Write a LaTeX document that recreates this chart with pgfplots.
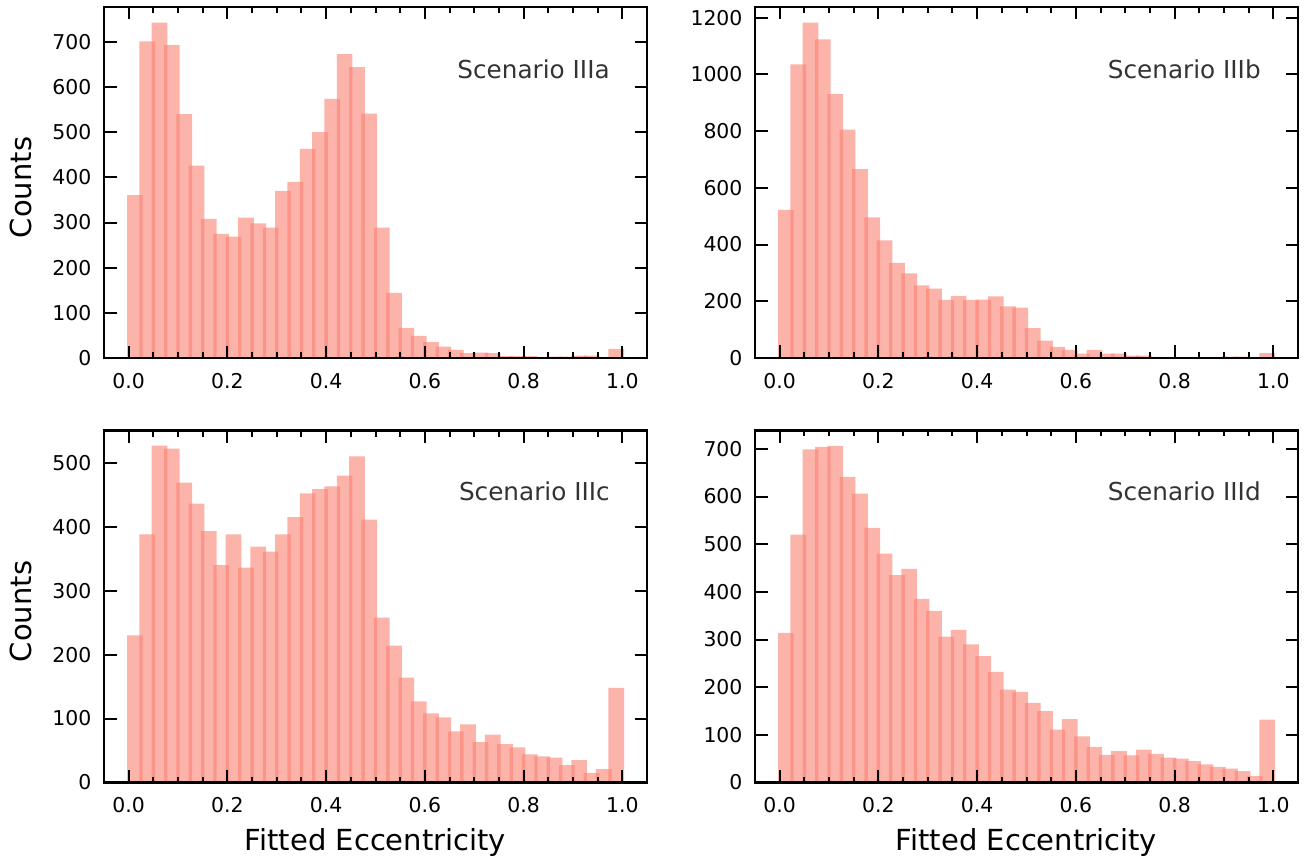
\documentclass[border=0pt]{standalone}
\usepackage{fontspec}
\setmainfont{DejaVu Sans}
\usepackage{pgfplots}
\usepackage{pgfplotstable}
\pgfplotsset{compat=1.18}
\definecolor{barc}{RGB}{250,128,114}
\definecolor{txt}{RGB}{51,51,51}

\pgfplotstableread{
x      a    b     c    d
0.0125 361  522   230  314
0.0375 701  1035  388  520
0.0625 743  1182  527  699
0.0875 693  1123  522  704
0.1125 540  930   469  706
0.1375 426  805   436  641
0.1625 308  666   393  606
0.1875 275  496   340  534
0.2125 269  415   388  480
0.2375 311  335   336  435
0.2625 298  298   369  448
0.2875 289  256   361  385
0.3125 370  245   388  360
0.3375 390  205   415  306
0.3625 463  219   452  320
0.3875 500  205   459  290
0.4125 574  206   463  265
0.4375 673  217   480  232
0.4625 644  182   510  195
0.4875 541  178   411  190
0.5125 289  105   258  167
0.5375 144  61    214  150
0.5625 67   39    164  111
0.5875 49   29    127  133
0.6125 35   15    108  97
0.6375 25   29    102  75
0.6625 18   15    80   58
0.6875 11   15    91   66
0.7125 12   8     63   57
0.7375 11   8     75   69
0.7625 4    4     60   60
0.7875 4    2     55   52
0.8125 4    2     44   50
0.8375 2    3     41   45
0.8625 3    2     39   38
0.8875 3    2     27   33
0.9125 5    5     35   29
0.9375 5    5     15   24
0.9625 2    2     21   14
0.9875 20   17    148  132
}\histdata

\tikzset{scen/.style={anchor=base east, inner sep=0pt, text=txt, font=\fontsize{12.35}{14}\selectfont}}

\pgfplotsset{
  hist/.style={
    scale only axis, width=271.5pt,
    xmin=-0.05, xmax=1.05, ymin=0,
    xtick={0,0.2,0.4,0.6,0.8,1.0},
    minor xtick={0.05,0.1,0.15,0.25,0.3,0.35,0.45,0.5,0.55,0.65,0.7,0.75,0.85,0.9,0.95},
    tick align=inside, tick pos=both,
    major tick length=6.25pt, minor tick length=3pt,
    every tick/.style={black, line width=1pt},
    axis line style={line width=1.15pt},
    axis on top=true,
    /pgf/number format/assume math mode=true,
    /pgf/number format/1000 sep={},
    scaled y ticks=false,
    filter discard warning=false,
    x tick label style={font=\fontsize{10.2}{12}\selectfont, yshift=-4.1pt,
      /pgf/number format/.cd, fixed, fixed zerofill, precision=1, /tikz/.cd},
    y tick label style={font=\fontsize{10.2}{12}\selectfont, xshift=-2.75pt},
    every axis y label/.style={at={(axis description cs:-0.1525,0.486)}, rotate=90, anchor=center,
      font=\fontsize{14.5}{16}\selectfont},
    every axis x label/.style={at={(axis description cs:0.5,-0.193)}, anchor=base,
      font=\fontsize{14.5}{16}\selectfont},
  },
  bars/.style={ybar, bar width=0.0318, fill=barc, fill opacity=0.6, draw=none},
  evenbins/.style={x filter/.expression={mod(\coordindex,2)==0 ? x : nan}},
  oddbins/.style={x filter/.expression={mod(\coordindex,2)==1 ? x : nan}},
}

\begin{document}
\begin{tikzpicture}
\useasboundingbox (0,0) rectangle (652pt,429pt);

\begin{axis}[hist, height=175.5pt, at={(52pt,250pt)}, anchor=south west,
  ymax=777.4, ytick={0,100,...,700}, ylabel={Counts}]
\addplot[bars, evenbins] table[x=x,y=a]{\histdata};
\addplot[bars, oddbins] table[x=x,y=a]{\histdata};
\node[scen] at (axis description cs:0.932,0.796) {Scenario IIIa};
\end{axis}

\begin{axis}[hist, height=175.5pt, at={(377.5pt,250pt)}, anchor=south west,
  ymax=1237.5, ytick={0,200,...,1200}]
\addplot[bars, evenbins] table[x=x,y=b]{\histdata};
\addplot[bars, oddbins] table[x=x,y=b]{\histdata};
\node[scen] at (axis description cs:0.932,0.796) {Scenario IIIb};
\end{axis}

\begin{axis}[hist, height=176pt, at={(52pt,37.75pt)}, anchor=south west,
  ymax=550.5, ytick={0,100,...,500}, ylabel={Counts}, xlabel={Fitted Eccentricity}]
\addplot[bars, evenbins] table[x=x,y=c]{\histdata};
\addplot[bars, oddbins] table[x=x,y=c]{\histdata};
\node[scen] at (axis description cs:0.932,0.800) {Scenario IIIc};
\end{axis}

\begin{axis}[hist, height=176pt, at={(377.5pt,37.75pt)}, anchor=south west,
  ymax=738.5, ytick={0,100,...,700}, xlabel={Fitted Eccentricity}]
\addplot[bars, evenbins] table[x=x,y=d]{\histdata};
\addplot[bars, oddbins] table[x=x,y=d]{\histdata};
\node[scen] at (axis description cs:0.932,0.800) {Scenario IIId};
\end{axis}
\end{tikzpicture}
\end{document}
